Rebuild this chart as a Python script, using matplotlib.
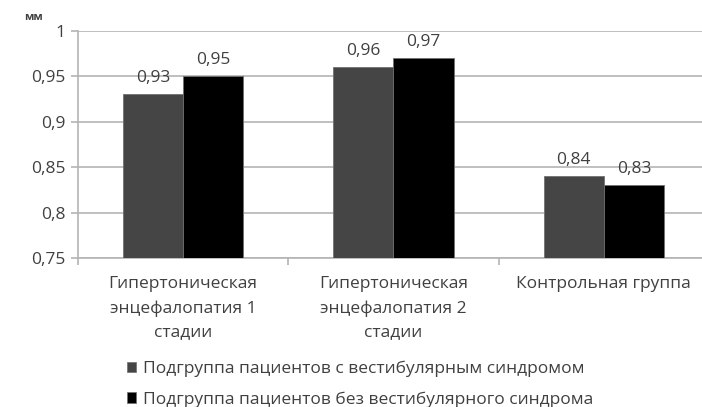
import matplotlib
matplotlib.use("Agg")
import matplotlib.pyplot as plt
import numpy as np
from matplotlib.patches import Patch

plt.rcParams['font.family'] = ['Open Sans', 'DejaVu Sans']

categories = [
    "Гипертоническая\nэнцефалопатия 1\nстадии",
    "Гипертоническая\nэнцефалопатия 2\nстадии",
    "Контрольная группа",
]
series_names = [
    "Подгруппа пациентов с вестибулярным синдромом",
    "Подгруппа пациентов без вестибулярного синдрома",
]
with_vestibular = [0.93, 0.96, 0.84]
without_vestibular = [0.95, 0.97, 0.83]
y_ticks = [0.75, 0.8, 0.85, 0.9, 0.95, 1.0]
y_tick_labels = ["0,75", "0,8", "0,85", "0,9", "0,95", "1"]
unit = "мм"

text_color = "#404040"
grid_color = "#b4b4b4"
colors = ["#454545", "#000000"]
fs = 12.5

fig = plt.figure(figsize=(7.02, 4.07), dpi=100)
W, H = 702, 407
ax = fig.add_axes([78 / W, (H - 258) / H, (709 - 78) / W, (258 - 30.7) / H])

x = np.arange(len(categories))
bw = 0.286
for i, (vals, c, name) in enumerate(zip([with_vestibular, without_vestibular], colors, series_names)):
    offs = (i - 0.5) * bw
    ax.bar(x + offs, [v - 0.75 for v in vals], bw, bottom=0.75,
           color=c, edgecolor="#707070", linewidth=0.6, label=name, zorder=3)
    for xi, v in zip(x + offs, vals):
        ax.annotate(f"{v:.2f}".replace(".", ","), (xi, v), xytext=(0, 6),
                    textcoords="offset points", ha="center", va="bottom",
                    fontsize=fs, color=text_color)

ax.set_xlim(-0.5, 2.5)
ax.set_ylim(0.75, 1.0)
ax.set_yticks(y_ticks)
ax.set_yticklabels(y_tick_labels, fontsize=fs, color=text_color)
ax.yaxis.grid(True, color=grid_color, linewidth=1.2, zorder=0)
ax.set_axisbelow(True)

ax.set_xticks(x)
ax.set_xticklabels(categories, fontsize=fs, color=text_color, linespacing=1.65, va="top")
ax.set_xticks([-0.5, 0.5, 1.5, 2.5], minor=True)
ax.tick_params(axis="x", which="major", length=0, pad=13)
ax.tick_params(axis="x", which="minor", length=5, color=grid_color, width=1.2)
ax.tick_params(axis="y", length=5, color=grid_color, width=1.2, pad=4)

for s in ["top", "right"]:
    ax.spines[s].set_visible(False)
for s in ["left", "bottom"]:
    ax.spines[s].set_color(grid_color)
    ax.spines[s].set_linewidth(1.2)

fig.text(24 / W, 1 - 17 / H, unit, fontsize=8, fontweight="bold", color=text_color,
         ha="left", va="center")

handles = [Patch(facecolor=c, edgecolor="#707070", linewidth=0.5) for c in colors]
fig.legend(handles, series_names, loc="upper left",
           bbox_to_anchor=(120 / W, 1 - 354 / H), frameon=False,
           fontsize=fs, labelcolor=text_color, handlelength=0.55, handleheight=0.55,
           handletextpad=0.4, labelspacing=0.8, borderaxespad=0)

fig.savefig("out.png", dpi=100)
